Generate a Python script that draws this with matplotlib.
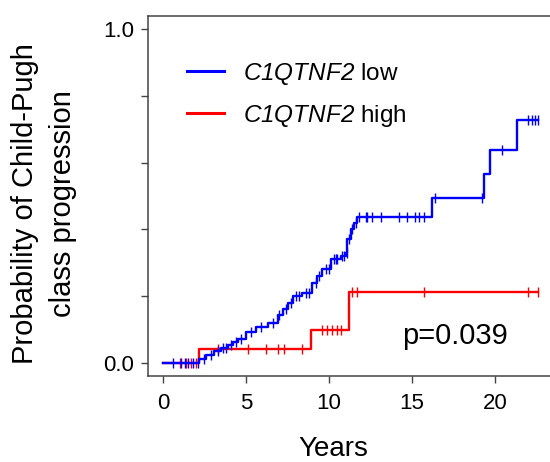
"""
Cumulative incidence of Child-Pugh class progression by C1QTNF2 expression.
"""

import numpy as np
import matplotlib
matplotlib.use("Agg")
import matplotlib.pyplot as plt
from matplotlib.lines import Line2D

plt.rcParams["font.family"] = ["Liberation Sans", "DejaVu Sans"]
plt.rcParams["mathtext.fontset"] = "custom"
plt.rcParams["mathtext.it"] = "Liberation Sans:italic"
plt.rcParams["mathtext.rm"] = "Liberation Sans:italic"

# step curves: event times (years) and cumulative probability after each event
low_times = [2.2, 2.6, 3.1, 3.5, 3.9, 4.2, 4.5, 5.0, 5.6, 6.3, 6.9, 7.2, 7.5,
             7.8, 8.4, 9.0, 9.3, 9.6, 10.1, 10.7, 11.0, 11.1, 11.3, 11.5, 11.7,
             16.2, 19.3, 19.7, 21.3]
low_probs = [0.012, 0.024, 0.036, 0.045, 0.054, 0.062, 0.070, 0.093, 0.108,
             0.120, 0.144, 0.162, 0.180, 0.200, 0.210, 0.240, 0.260, 0.280,
             0.310, 0.320, 0.330, 0.370, 0.400, 0.420, 0.437, 0.494, 0.566,
             0.638, 0.728]
low_censor = [0.6, 1.1, 1.3, 1.5, 1.8, 2.1, 2.5, 2.9, 3.3, 3.6, 3.8, 4.1, 4.4,
              4.7, 5.3, 5.9, 6.6, 7.0, 7.4, 7.7, 8.0, 8.2, 8.6, 8.8, 9.2, 9.4,
              9.8, 10.0, 10.3, 10.4, 10.5, 10.8, 10.9, 11.05, 11.2, 11.4, 11.6,
              11.8, 12.2, 12.3, 12.6, 13.1, 14.2, 14.7, 15.2, 15.4, 15.7, 16.4,
              19.2, 20.4, 22.0, 22.2, 22.4, 22.6]
low_end = 22.6

high_times = [2.2, 8.9, 11.2]
high_probs = [0.042, 0.099, 0.212]
high_censor = [1.0, 1.4, 1.7, 2.0, 3.3, 5.1, 6.2, 6.9, 7.3, 8.4, 9.6, 9.9,
               10.2, 10.5, 10.7, 11.4, 11.7, 15.7, 22.0, 22.6]
high_end = 22.6

P_TEXT = "p=0.039"


def step_xy(times, probs, end):
    x = np.concatenate([[0.0], times, [end]])
    y = np.concatenate([[0.0], probs, [probs[-1]]])
    return x, y


def value_at(times, probs, t):
    idx = np.searchsorted(np.asarray(times), np.asarray(t), side="right")
    vals = np.concatenate([[0.0], probs])
    return vals[idx]


def main() -> None:
    fig = plt.figure(figsize=(5.5, 4.62), dpi=100)
    ax = fig.add_axes([148 / 550, 1 - 376 / 462, 1 - 148 / 550, 360 / 462])

    for times, probs, end, cens, color in [
        (high_times, high_probs, high_end, high_censor, "#ff0000"),
        (low_times, low_probs, low_end, low_censor, "#0000ff"),
    ]:
        x, y = step_xy(times, probs, end)
        ax.step(x, y, where="post", color=color, lw=1.7)
        ax.plot(cens, value_at(times, probs, cens), ls="none", marker="|",
                ms=7, mew=1.0, color=color)

    ax.set_xlim(-0.9, 23.3)
    ax.set_ylim(-0.04, 1.04)
    ax.set_xticks([0, 5, 10, 15, 20])
    ax.set_yticks(np.arange(0, 1.01, 0.2))
    ax.set_yticklabels(["0.0", "", "", "", "", "1.0"])
    ax.spines["right"].set_visible(False)
    for s in ax.spines.values():
        s.set_color("#444444")
        s.set_linewidth(1.1)
    ax.tick_params(labelsize=16, length=5, width=1.0, color="#444444")
    ax.tick_params(axis="x", pad=7)
    ax.tick_params(axis="y", pad=5)

    ax.set_xlabel("Years", fontsize=20)
    ax.xaxis.set_label_coords(333 / 550, 1 - 436 / 462, transform=fig.transFigure)
    ax.set_ylabel("Probability of Child-Pugh\nclass progression", fontsize=21,
                  linespacing=1.45)
    ax.yaxis.set_label_coords(77 / 550, 1 - 204 / 462, transform=fig.transFigure)

    handles = [Line2D([], [], color="#0000ff", lw=2.2),
               Line2D([], [], color="#ff0000", lw=2.2)]
    labels = [r"$\mathit{C1QTNF2}$ low", r"$\mathit{C1QTNF2}$ high"]
    ax.legend(handles, labels, loc="upper left", frameon=False, fontsize=17.5,
              handlelength=1.52, handletextpad=0.78, labelspacing=0.65,
              borderpad=0, borderaxespad=0,
              bbox_to_anchor=(187 / 550, 1 - 61 / 462),
              bbox_transform=fig.transFigure)

    fig.text(455 / 550, 1 - 336 / 462, P_TEXT, fontsize=21,
             ha="center", va="center")

    fig.savefig("out.png", dpi=100)
    plt.close(fig)


if __name__ == "__main__":
    main()
